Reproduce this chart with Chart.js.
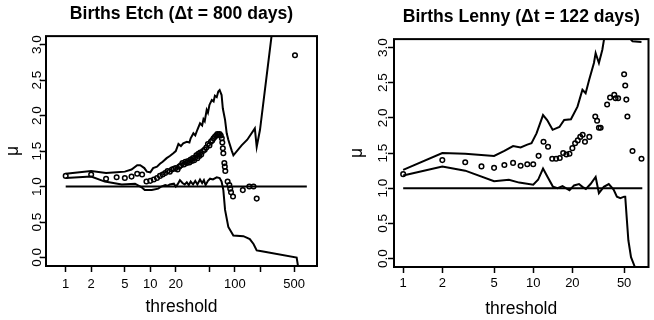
<!DOCTYPE html>
<html>
<head>
<meta charset="utf-8">
<script src="https://cdn.jsdelivr.net/npm/chart.js@4/dist/chart.umd.min.js"></script>
<style>
  body { margin: 0; background: #fff; }
  .panel { position: absolute; top: 0; width: 327px; height: 320px; }
</style>
</head>
<body>
<div class="panel" style="left:0"><canvas id="etch" width="327" height="320"></canvas></div>
<div class="panel" style="left:327px"><canvas id="lenny" width="327" height="320"></canvas></div>
<script>
// Births Etch: estimated mu per threshold, with upper/lower band
const etchT = [1,2,3,4,5,6,7,8,9,10,11,12,13,14,15,16,17,18,19,20,21,22,23,24,25,26,27,28,29,30,31,32,33,34,35,36,37,38,39,40,
  42,44,46,48,50,52,54,56,58,60,62,64,66,68,70,71,72,73,75,76,77,82,86,88,90,95,124,148,166,181,513];
const etchMu = [1.15,1.17,1.11,1.13,1.12,1.14,1.18,1.17,1.07,1.08,
  1.10,1.12,1.15,1.17,1.19,1.22,1.21,1.24,1.25,1.26,
  1.24,1.28,1.30,1.33,1.31,1.35,1.33,1.36,1.34,1.38,
  1.36,1.40,1.37,1.41,1.44,1.40,1.46,1.43,1.48,1.45,
  1.50,1.52,1.55,1.60,1.58,1.63,1.65,1.68,1.70,1.72,1.74,1.73,1.74,1.72,1.68,
  1.62,1.54,1.47,1.33,1.28,1.22,
  1.07,1.02,0.97,0.92,0.86,
  0.95,1.00,1.00,0.83,2.85];
const etchUpT = [1,2,3,4,5,6,7,7.6,8.5,9.1,10,10.8,12,13,14,15.6,17,18.7,20,21.5,23,24.5,27,29,30,32.3,34,36,38.7,41,42.5,44,46.4,48,50,
  53.3,56,58,61,63.6,66,68,69.6,72,76.5,80,83.6,91.5,96,120,140,172,181,198,271,300];
const etchUp = [1.18,1.22,1.19,1.20,1.21,1.24,1.30,1.30,1.26,1.21,1.20,1.26,1.28,1.32,1.35,1.40,1.43,1.47,1.50,1.60,1.57,1.61,1.63,1.62,1.68,1.75,1.72,1.80,1.89,1.86,1.95,1.92,2.08,2.04,2.15,
  2.22,2.20,2.28,2.26,2.34,2.36,2.32,2.29,2.10,1.94,1.75,1.66,1.51,1.44,1.58,1.66,1.82,1.56,1.80,3.12,3.55];
const etchLoT = [1,2,2.9,4.6,6.6,7.9,8.6,10.4,12.4,13.5,15,16,17,19,20,21,22.4,24,25.5,27,28.5,30,32,34,36,38.7,41,43,45,48,50.9,55,61,66,69.6,
  73,76.5,83.6,95.8,126,150,166,181,200,537,560];
const etchLo = [1.12,1.14,1.07,1.03,1.04,0.99,0.95,0.95,0.97,1.00,1.02,1.01,1.03,1.04,1.00,1.03,1.09,1.05,1.03,1.06,1.02,1.07,1.03,1.08,1.03,1.10,1.05,1.09,1.02,1.08,1.11,1.10,1.13,1.12,1.07,
  0.95,0.67,0.43,0.31,0.30,0.26,0.19,0.10,0.09,0.0,-0.14];
const etchRefT = [1, 708];
const etchTicks = [1,2,5,10,20,50,100,200,500];
const etchLabels = [1,2,5,10,20,100,500];

// Births Lenny
const lennyT = [1,2,3,4,5,6,7,8,9,10,11,12,13,14,15,16,17,18,19,20,21,22,23,24,25,27,30,31,32,33,37,39,42,43,45,50,51,52,53,58,68];
const lennyMu = [1.20,1.40,1.37,1.31,1.29,1.33,1.36,1.32,1.34,1.34,
  1.46,1.66,1.59,1.42,1.42,1.43,1.50,1.48,1.49,1.57,
  1.64,1.68,1.73,1.76,1.66,1.73,2.02,1.96,1.86,1.86,
  2.19,2.29,2.33,2.28,2.28,2.62,2.46,2.26,2.02,1.53,1.42];
const lennyUpT = [1,2,3,5,6,7,8,9,9.7,10.6,11.9,12.8,14.1,15.9,17.3,19.5,21.9,23.9,25.3,26.9,29.3,30.2,32,34,36,45,52,56,58,68];
const lennyUp = [1.26,1.50,1.49,1.46,1.53,1.60,1.58,1.62,1.64,1.78,2.04,1.97,1.83,1.87,1.97,1.98,2.16,2.40,2.35,2.54,2.78,2.92,2.78,2.97,3.25,3.9,3.6,3.12,3.09,3.08];
const lennyLoT = [1,2,3,5,6.5,7.8,10,10.9,11.9,12.9,14.2,15.4,16.8,19,20.6,22.5,23.9,25.4,27.6,30.2,32,34.9,38.1,41.5,44,46.8,50,51,52.5,53.9,56.5,60.5];
const lennyLo = [1.18,1.31,1.25,1.10,1.12,1.08,1.05,1.12,1.28,1.16,1.02,1.00,1.03,0.97,1.04,1.06,1.02,0.99,1.06,1.16,0.93,1.02,1.06,0.98,0.88,0.86,0.88,0.88,0.55,0.26,0.02,-0.12];
const lennyRefT = [1, 69];
const lennyTicks = [1,2,5,10,20,50];
const lennyLabels = [1,2,5,10,20,50];

const muTicks = [0,0.5,1,1.5,2,2.5,3];

Chart.defaults.font.family = "'Liberation Sans', Arial, sans-serif";
Chart.defaults.color = "#000";

function pairs(ts, vs) {
  return ts.map((t, i) => ({ x: t, y: vs[i] }));
}

// R style box round the plot region
const frame = {
  id: "frame",
  afterDatasetsDraw(chart) {
    const { ctx, chartArea: a } = chart;
    ctx.save();
    ctx.strokeStyle = "#000";
    ctx.lineWidth = 2;
    ctx.strokeRect(a.left, a.top, a.right - a.left, a.bottom - a.top);
    ctx.restore();
  }
};

function lineSet(data) {
  return { data: data, showLine: true, borderColor: "#000", borderWidth: 2, pointRadius: 0, tension: 0 };
}

function panel(id, c) {
  return new Chart(document.getElementById(id), {
    type: "scatter",
    data: {
      datasets: [
        lineSet(pairs(c.refT, c.refT.map(() => 1))),
        lineSet(pairs(c.upT, c.up)),
        lineSet(pairs(c.loT, c.lo)),
        {
          data: pairs(c.t, c.mu),
          showLine: false,
          pointRadius: 2.3,
          pointBorderWidth: 1.5,
          pointBorderColor: "#000",
          pointBackgroundColor: "rgba(0,0,0,0)"
        }
      ]
    },
    options: {
      responsive: false,
      animation: false,
      layout: { padding: { right: c.padRight } },
      plugins: {
        legend: { display: false },
        tooltip: { enabled: false },
        title: {
          display: true,
          fullSize: false,
          text: c.title,
          color: "#000",
          font: { size: 17.6, weight: "bold" },
          padding: { top: c.titleTop, bottom: c.titleBottom }
        }
      },
      scales: {
        x: {
          type: "logarithmic",
          min: c.xMin,
          max: c.xMax,
          afterBuildTicks: s => { s.ticks = c.ticks.map(v => ({ value: v })); },
          afterFit: s => { s.height = c.xH; },
          ticks: {
            autoSkip: false, minRotation: 0, maxRotation: 0,
            font: { size: 13 }, padding: c.xPad,
            callback: v => c.labels.includes(v) ? String(v) : ""
          },
          grid: { drawOnChartArea: false, tickLength: 6, tickColor: "#000", tickWidth: 1.5 },
          border: { display: false },
          title: { display: true, text: "threshold", font: { size: 17.5 }, padding: { top: 0, bottom: c.xTitlePad } }
        },
        y: {
          min: -0.12,
          max: 3.12,
          afterBuildTicks: s => { s.ticks = muTicks.map(v => ({ value: v })); },
          afterFit: s => { s.width = c.yW; },
          ticks: {
            font: { size: 13.5 }, minRotation: 90, maxRotation: 90,
            crossAlign: "center", padding: c.yPad,
            callback: v => v.toFixed(1)
          },
          grid: { drawOnChartArea: false, tickLength: 6, tickColor: "#000", tickWidth: 1.5 },
          border: { display: false },
          title: { display: true, text: "μ", font: { size: 17.5 }, padding: { top: c.yTitlePad, bottom: 0 } }
        }
      }
    },
    plugins: [frame]
  });
}

panel("etch", {
  title: "Births Etch (\u0394t = 800 days)",
  t: etchT, mu: etchMu, upT: etchUpT, up: etchUp, loT: etchLoT, lo: etchLo, refT: etchRefT,
  ticks: etchTicks, labels: etchLabels,
  xMin: 0.585, xMax: 934,
  padRight: 10, titleTop: 4, titleBottom: 11, xH: 54, xPad: 5, xTitlePad: 2,
  yW: 46, yPad: -7, yTitlePad: 3
});

panel("lenny", {
  title: "Births Lenny (\u0394t = 122 days)",
  t: lennyT, mu: lennyMu, upT: lennyUpT, up: lennyUp, loT: lennyLoT, lo: lennyLo, refT: lennyRefT,
  ticks: lennyTicks, labels: lennyLabels,
  xMin: 0.85, xMax: 77,
  padRight: 2, titleTop: 7, titleBottom: 11, xH: 53, xPad: 3, xTitlePad: 0,
  yW: 67, yPad: -5, yTitlePad: 20
});
</script>
</body>
</html>
